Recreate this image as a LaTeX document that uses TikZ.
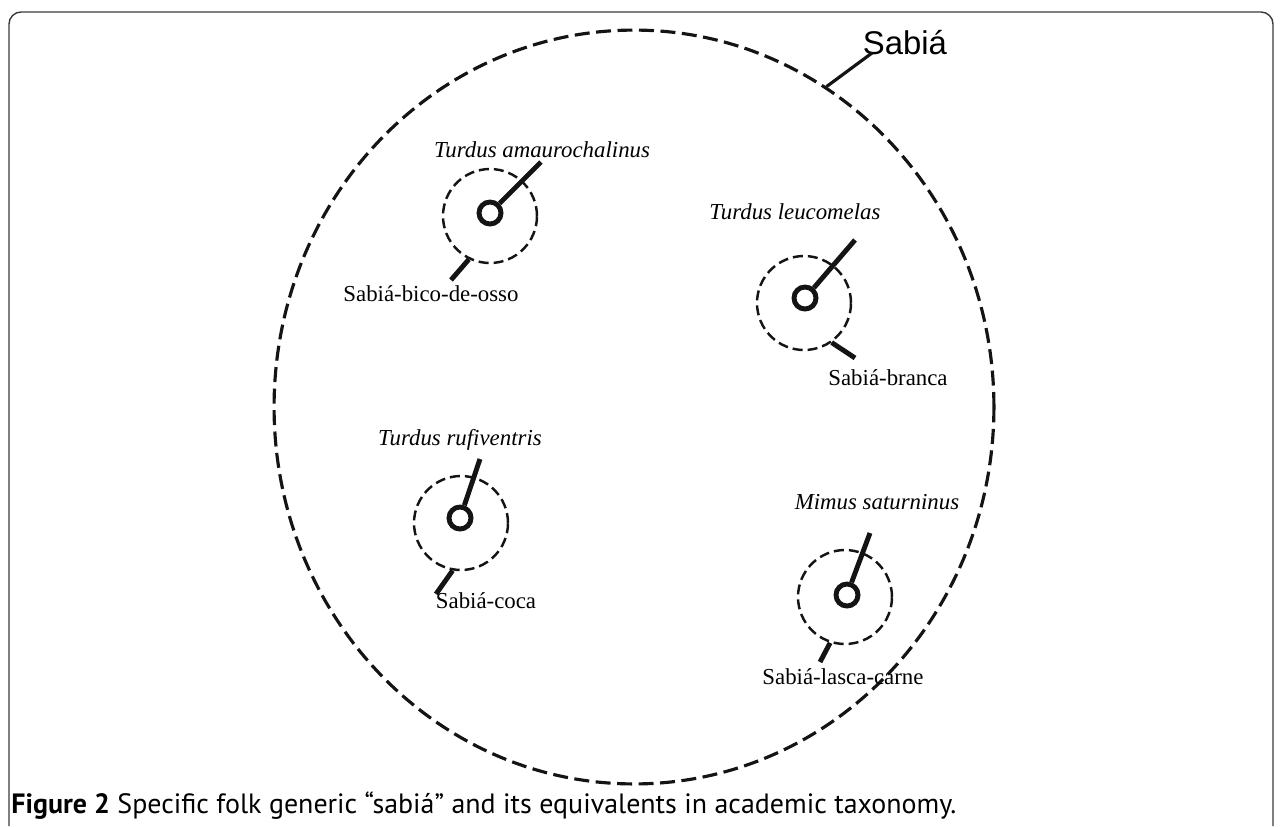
\documentclass[tikz,border=0pt]{standalone}
\usepackage{fontspec}
\setmainfont{Liberation Serif}
\newfontfamily\headfont{Liberation Sans}
\newfontfamily\capfont{PT Sans}
\usetikzlibrary{shapes.geometric, positioning, calc}
\definecolor{framegray}{HTML}{3A3A3A}
\definecolor{inkblack}{HTML}{141414}
\tikzset{
  genus/.style={ellipse, draw=inkblack, line width=1.8pt,
                dash pattern=on 0.3cm off 0.13cm,
                minimum width=14.4cm, minimum height=15.08cm, inner sep=0},
  ring/.style={circle, draw=inkblack, line width=1.4pt,
               dash pattern=on 0.2cm off 0.1cm,
               minimum size=1.88cm, inner sep=0},
  dot/.style={circle, draw=inkblack, line width=2.8pt,
              minimum size=0.44cm, inner sep=0},
  stalk/.style={draw=inkblack, line width=2.8pt},
  sciname/.style={font=\fontsize{13}{15}\selectfont\itshape, inner sep=1pt},
  folkname/.style={font=\fontsize{13}{15}\selectfont, inner sep=1pt},
}

\begin{document}
\begin{tikzpicture}[x=0.02cm, y=-0.02cm]
  \useasboundingbox (0,0) rectangle (1282,826);
  %% Outer frame ─────────────────────────────────────────────
  \draw[framegray, line width=0.8pt, rounded corners=0.24cm]
    (9,826) -- (9,12) -- (1273,12) -- (1273,826);
  %% Folk generic "Sabiá" ──────────────────────────────────────
  \node[genus] (all) at (634,407) {};
  \node[font=\headfont\fontsize{18.7}{20}\selectfont, inner sep=1pt]
    (head) at (905,43) {Sabiá};
  \coordinate (headend) at (872,53);
  \draw[stalk, line width=1.8pt] (all.59) -- (headend);
  %% Turdus amaurochalinus ───────────────────────────────────
  \node[ring] (r1) at (490,216) {};
  \node[dot] (c1) at (490,213) {};
  \coordinate (t1) at (541,162);
  \coordinate (b1) at (451,280);
  \draw[stalk] (c1.45) -- (t1);
  \draw[stalk] (r1.244) -- (b1);
  \node[sciname] (s1) at (542,150) {Turdus amaurochalinus};
  \node[folkname, anchor=north] (f1) at (431,284) {Sabiá-bico-de-osso};
  %% Turdus leucomelas ───────────────────────────────────────
  \node[ring] (r2) at (804,303) {};
  \node[dot] (c2) at (805,298) {};
  \coordinate (t2) at (855,240);
  \coordinate (b2) at (855,358);
  \draw[stalk] (c2.49) -- (t2);
  \draw[stalk] (r2.-55) -- (b2);
  \node[sciname] (s2) at (795,212) {Turdus leucomelas};
  \node[folkname] (f2) at (888,378) {Sabiá-branca};
  %% Turdus rufiventris ──────────────────────────────────────
  \node[ring] (r3) at (461,523) {};
  \node[dot] (c3) at (460,518) {};
  \coordinate (t3) at (480,459);
  \coordinate (b3) at (436,594);
  \draw[stalk] (c3.71) -- (t3);
  \draw[stalk] (r3.260) -- (b3);
  \node[sciname] (s3) at (460,440) {Turdus rufiventris};
  \node[folkname] (f3) at (486,601) {Sabiá-coca};
  %% Mimus saturninus ────────────────────────────────────────
  \node[ring] (r4) at (845,597) {};
  \node[dot] (c4) at (847,595) {};
  \coordinate (t4) at (870,533);
  \coordinate (b4) at (820,662);
  \draw[stalk] (c4.70) -- (t4);
  \draw[stalk] (r4.252) -- (b4);
  \node[sciname] (s4) at (877,502) {Mimus saturninus};
  \node[folkname] (f4) at (843,677) {Sabiá-lasca-carne};
  %% Caption ────────────────────────────────────────────────
  \node[anchor=west, inner sep=0, font=\capfont\fontsize{15.9}{18}\selectfont]
    (caption) at (11,806)
    {\textbf{Figure 2} Specific folk generic “sabiá” and its equivalents in academic taxonomy.};
\end{tikzpicture}
\end{document}
